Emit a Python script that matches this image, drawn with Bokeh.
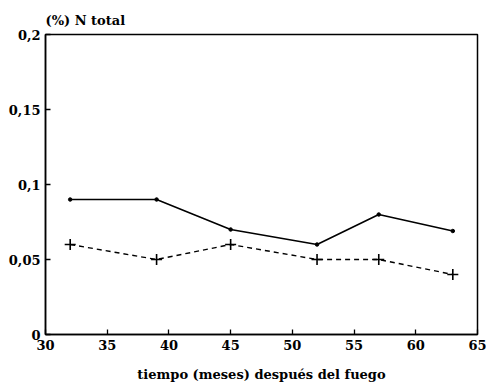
from bokeh.plotting import figure
from bokeh.models import FixedTicker, CustomJSTickFormatter, Range1d
from bokeh.embed import file_html
from bokeh.resources import INLINE

meses = [32, 39, 45, 52, 57, 63]
serie_continua = [0.09, 0.09, 0.07, 0.06, 0.08, 0.069]
serie_discontinua = [0.06, 0.05, 0.06, 0.05, 0.05, 0.04]
x_ticks = [30, 35, 40, 45, 50, 55, 60, 65]
y_ticks = [0, 0.05, 0.1, 0.15, 0.2]

FONT = "DejaVu Serif"

p = figure(width=486, height=389, output_backend="svg", toolbar_location=None,
           x_range=Range1d(30, 65), y_range=Range1d(0, 0.2),
           min_border_left=45, min_border_right=9, min_border_top=34, min_border_bottom=55)
p.grid.visible = False
p.outline_line_color = "black"
p.outline_line_width = 1.5

p.title.text = "(%) N total"
p.title.text_font = FONT
p.title.text_font_style = "bold"
p.title.text_font_size = "13px"
p.title.text_color = "black"
p.title.align = "left"
p.title.offset = 0
p.title.standoff = 14

p.line(meses, serie_continua, line_color="black", line_width=1.6)
p.scatter(meses, serie_continua, size=3.5, marker="circle", color="black")
p.line(meses, serie_discontinua, line_color="black", line_width=1.4, line_dash="5 4")
p.scatter(meses, serie_discontinua, size=11, marker="cross", line_color="black", line_width=1.6)

for ax in (p.xaxis[0], p.yaxis[0]):
    ax.axis_line_width = 1.5
    ax.major_tick_in = 5
    ax.major_tick_out = 0
    ax.minor_tick_line_color = None
    ax.major_label_text_font = FONT
    ax.major_label_text_font_style = "bold"
    ax.major_label_text_font_size = "13px"
    ax.major_label_text_color = "black"
    ax.major_tick_line_width = 1.3

p.xaxis.ticker = FixedTicker(ticks=x_ticks)
p.yaxis.ticker = FixedTicker(ticks=y_ticks)
p.yaxis.formatter = CustomJSTickFormatter(code="""
let s = tick.toFixed(2);
s = s.replace(/0+$/, '').replace(/\\.$/, '');
return s.replace('.', ',');
""")
p.xaxis.major_label_standoff = 5
p.yaxis.major_label_standoff = 5

p.xaxis.axis_label = "tiempo (meses) después del fuego"
p.xaxis.axis_label_text_font = FONT
p.xaxis.axis_label_text_font_style = "bold"
p.xaxis.axis_label_text_font_size = "13px"
p.xaxis.axis_label_text_color = "black"
p.xaxis.axis_label_standoff = 14

open("out.html", "w").write(file_html(p, INLINE))
